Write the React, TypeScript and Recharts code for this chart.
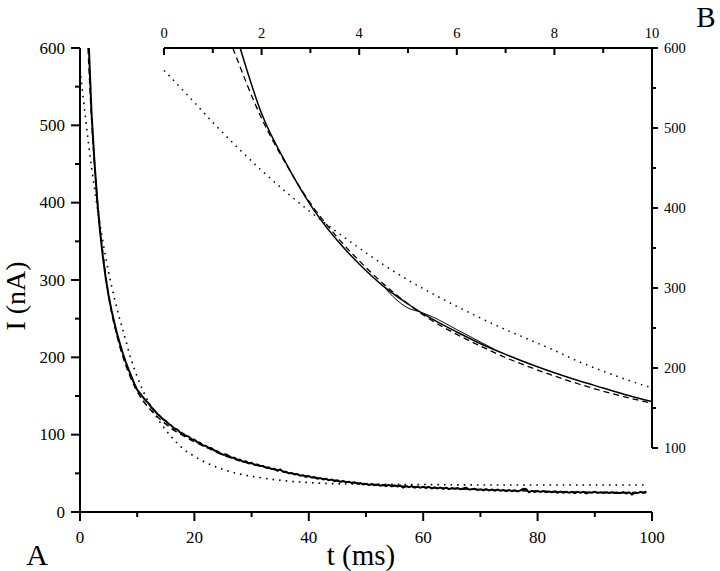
import { Line, LineChart, XAxis, YAxis } from 'recharts'

// recorded current trace (ms, nA)
const traceT = [
  1.56, 2, 2.5, 3, 3.5, 4, 4.5, 5, 5.5, 6, 6.5, 7, 7.5, 8, 8.5, 9, 9.5,
  10, 10.5, 11, 11.5, 12, 12.5, 13, 13.5, 14, 14.5,
  15, 15.5, 16, 16.5, 17, 17.5, 18, 18.5, 19, 19.5,
  20, 20.5, 21, 21.5, 22, 22.5, 23, 23.5, 24, 24.5,
  25, 25.5, 26, 26.5, 27, 27.5, 28, 28.5, 29, 29.5,
  30, 30.5, 31, 31.5, 32, 32.5, 33, 33.5, 34, 34.5,
  35, 35.5, 36, 36.5, 37, 37.5, 38, 38.5, 39, 39.5,
  40, 40.5, 41, 41.5, 42, 42.5, 43, 43.5, 44, 44.5,
  45, 45.5, 46, 46.5, 47, 47.5, 48, 48.5, 49, 49.5,
  50, 50.5, 51, 51.5, 52, 52.5, 53, 53.5, 54, 54.5,
  55, 55.5, 56, 56.5, 57, 57.5, 58, 58.5, 59, 59.5,
  60, 60.5, 61, 61.5, 62, 62.5, 63, 63.5, 64, 64.5,
  65, 65.5, 66, 66.5, 67, 67.5, 68, 68.5, 69, 69.5,
  70, 70.5, 71, 71.5, 72, 72.5, 73, 73.5, 74, 74.5,
  75, 75.5, 76, 76.5, 77, 77.5, 78, 78.5, 79, 79.5,
  80, 80.5, 81, 81.5, 82, 82.5, 83, 83.5, 84, 84.5,
  85, 85.5, 86, 86.5, 87, 87.5, 88, 88.5, 89, 89.5,
  90, 90.5, 91, 91.5, 92, 92.5, 93, 93.5, 94, 94.5,
  95, 95.5, 96, 96.5, 97, 97.5, 98, 98.5, 99,
]
const traceI = [
  600, 518, 456, 404, 363, 330, 302, 280, 261, 245, 230, 217, 205, 194, 184, 175, 166,
  158, 153.5, 148.5, 144, 140.5, 135, 131.5, 127, 124, 120,
  117.5, 114, 111.5, 108, 106.5, 103, 101.5, 98.5, 97.5, 94,
  93.5, 90.5, 89.5, 86, 85.5, 83, 82.5, 79.5, 78.5, 76,
  74, 74.5, 72.5, 70, 70, 67.5, 67.5, 65, 65.5, 63,
  63.5, 61, 61.5, 59.5, 59.5, 57.5, 57.5, 55.5, 56, 53.5,
  55, 52, 52, 50, 50.5, 48.5, 49, 47, 47.5, 45.5,
  46.5, 44.5, 45, 43, 44, 42, 43, 41, 42, 40,
  41, 39, 40, 38.5, 39, 37.5, 38.5, 36.5, 37.5, 35.5,
  36.5, 35, 36, 34.5, 35.5, 34, 35, 33.5, 35, 33,
  34.5, 33, 34, 31.5, 33.5, 32, 33.5, 31.5, 33, 31.5,
  32.5, 31, 32.5, 30.5, 32, 30.5, 31.5, 30, 31.5, 29.5,
  31, 30, 31, 29.5, 30.5, 31.5, 29, 29.5, 30, 28.5,
  29.5, 28, 29.5, 28, 29, 27.5, 29, 27.5, 28.5, 27,
  28.5, 27, 28, 26.5, 28, 30, 29.5, 25.5, 27.5, 26,
  27, 26, 27, 25.5, 26.5, 25.5, 26.5, 25, 26.5, 25,
  26, 25, 26, 24.5, 26, 25, 26, 24, 25.5, 25,
  26, 24.5, 25.5, 24.5, 25.5, 24.5, 25.5, 24.5, 25, 24.5,
  25.5, 24, 25.5, 22.5, 25, 24.5, 26, 25, 26.5,
]

// second sweep, only visible as the small loop in the inset
const loopT = [4.5, 4.75, 5, 5.25, 5.5, 6, 6.5, 6.75]
const loopI = [302, 286, 275, 270, 264, 248, 232, 224]

// two-exponential fit (dashed)
const dashT = [
  1.41, 2, 2.5, 3, 3.5, 4, 4.5, 5, 5.5, 6, 6.5, 7, 7.5, 8, 8.5, 9, 9.5, 10, 11, 12,
  13, 14, 15, 16, 18, 20, 22, 24, 26, 28, 30, 33, 36, 40, 45, 50, 55, 60, 70, 80, 90, 99,
]
const dashI = [
  600, 512, 455, 406, 367, 334, 305, 280, 259, 242, 227, 213, 201, 190, 180, 171, 163, 156, 144, 135,
  127, 120, 114, 108, 99, 91, 84, 77, 71, 66, 62, 56.5, 51.5, 46, 40.5, 36.5, 34, 32, 29, 27, 25.5, 25,
]

// single-exponential fit (dotted)
const dotT = [
  0, 0.5, 1, 1.5, 2, 2.5, 3, 3.5, 4, 4.5, 5, 5.5, 6, 6.5, 7, 7.5, 8, 8.5, 9, 9.5, 10,
  11, 12, 13, 14, 15, 16, 18, 20, 22, 25, 28, 31, 35, 40, 45, 50, 60, 70, 99,
]
const dotI = [
  572, 540, 507, 476, 447, 420, 395, 372, 350, 329, 310, 293, 277, 262, 248, 235, 222, 208, 196, 185, 175,
  157, 142, 128, 116, 106, 97, 82, 72, 64, 55, 49, 45, 41, 38, 36.5, 36, 35.5, 35, 35,
]

const mainXTicks = [0, 10, 20, 30, 40, 50, 60, 70, 80, 90, 100]
const mainYTicks = [0, 50, 100, 150, 200, 250, 300, 350, 400, 450, 500, 550, 600]
const insetXTicks = [0, 1, 2, 3, 4, 5, 6, 7, 8, 9, 10]
const insetYTicks = [100, 150, 200, 250, 300, 350, 400, 450, 500, 550, 600]

const zip = (ts: number[], vs: number[]) => ts.map((t, k) => ({ t, i: vs[k] }))
const trace = zip(traceT, traceI)
const loop = zip(loopT, loopI)
const dashed = zip(dashT, dashI)
const dotted = zip(dotT, dotI)

const FONT = '"Liberation Serif", "Times New Roman", serif'
const AXIS = { stroke: '#000', strokeWidth: 2 }

const MainXTick = ({ x, y, payload }: any) => {
  const major = payload.value % 20 === 0
  return (
    <g>
      <line x1={x} x2={x} y1={y} y2={y + (major ? 9 : 5)} stroke="#000" strokeWidth={2} />
      {major && (
        <text x={x} y={y + 25} textAnchor="middle" dominantBaseline="central" fontSize={17} fontFamily={FONT} fill="#000">
          {payload.value}
        </text>
      )}
    </g>
  )
}

const MainYTick = ({ x, y, payload }: any) => {
  const major = payload.value % 100 === 0
  return (
    <g>
      <line x1={x - (major ? 9 : 5)} x2={x} y1={y} y2={y} stroke="#000" strokeWidth={2} />
      {major && (
        <text x={x - 15} y={y} textAnchor="end" dominantBaseline="central" fontSize={17} fontFamily={FONT} fill="#000">
          {payload.value}
        </text>
      )}
    </g>
  )
}

const InsetXTick = ({ x, y, payload }: any) => {
  const major = payload.value % 2 === 0
  return (
    <g>
      <line x1={x} x2={x} y1={y} y2={y + (major ? 7 : 5)} stroke="#000" strokeWidth={2} />
      {major && (
        <text x={x} y={y - 15} textAnchor="middle" dominantBaseline="central" fontSize={14.5} fontFamily={FONT} fill="#000">
          {payload.value}
        </text>
      )}
    </g>
  )
}

const InsetYTick = ({ x, y, payload }: any) => {
  const major = payload.value % 100 === 0
  return (
    <g>
      <line x1={x} x2={x + (major ? 6 : 4)} y1={y} y2={y} stroke="#000" strokeWidth={2} />
      {major && (
        <text x={x + 12} y={y} textAnchor="start" dominantBaseline="central" fontSize={14.5} fontFamily={FONT} fill="#000">
          {payload.value}
        </text>
      )}
    </g>
  )
}

export default function App() {
  const insetTrace = trace.filter((d) => d.t <= 10)
  const insetDashed = dashed.filter((d) => d.t <= 10)
  const insetDotted = dotted.filter((d) => d.t <= 10)

  return (
    <div style={{ position: 'absolute', left: 0, top: 0, width: 720, height: 571, background: '#fff' }}>
      <div style={{ position: 'absolute', left: 0, top: 0 }}>
        <LineChart width={720} height={571} margin={{ top: 48, right: 68, bottom: 19, left: 20 }}>
          <XAxis
            dataKey="t"
            type="number"
            domain={[0, 100]}
            ticks={mainXTicks}
            interval={0}
            height={40}
            tickSize={0}
            tickMargin={0}
            tickLine={false}
            axisLine={AXIS}
            tick={<MainXTick />}
          />
          <YAxis
            type="number"
            domain={[0, 600]}
            ticks={mainYTicks}
            interval={0}
            width={60}
            tickSize={0}
            tickMargin={0}
            tickLine={false}
            axisLine={AXIS}
            tick={<MainYTick />}
          />
          <Line data={dotted} dataKey="i" type="monotone" stroke="#000" strokeWidth={1.6} strokeDasharray="1.6 5" dot={false} activeDot={false} isAnimationActive={false} />
          <Line data={dashed} dataKey="i" type="monotone" stroke="#000" strokeWidth={1.5} strokeDasharray="6 4" dot={false} activeDot={false} isAnimationActive={false} />
          <Line data={trace} dataKey="i" type="linear" stroke="#000" strokeWidth={2} dot={false} activeDot={false} isAnimationActive={false} />
        </LineChart>
      </div>

      <div style={{ position: 'absolute', left: 0, top: 0, pointerEvents: 'none' }}>
        <LineChart width={720} height={571} margin={{ top: 18, right: 8, bottom: 123, left: 164 }}>
          <XAxis
            dataKey="t"
            type="number"
            orientation="top"
            domain={[0, 10]}
            ticks={insetXTicks}
            interval={0}
            height={30}
            tickSize={0}
            tickMargin={0}
            tickLine={false}
            axisLine={AXIS}
            tick={<InsetXTick />}
          />
          <YAxis
            type="number"
            orientation="right"
            domain={[100, 600]}
            ticks={insetYTicks}
            interval={0}
            width={60}
            tickSize={0}
            tickMargin={0}
            tickLine={false}
            axisLine={AXIS}
            tick={<InsetYTick />}
          />
          <Line data={insetDotted} dataKey="i" type="monotone" stroke="#000" strokeWidth={1.5} strokeDasharray="1.5 5" dot={false} activeDot={false} isAnimationActive={false} />
          <Line data={insetDashed} dataKey="i" type="monotone" stroke="#000" strokeWidth={1.3} strokeDasharray="6 4" dot={false} activeDot={false} isAnimationActive={false} />
          <Line data={loop} dataKey="i" type="monotone" stroke="#000" strokeWidth={1} dot={false} activeDot={false} isAnimationActive={false} />
          <Line data={insetTrace} dataKey="i" type="monotone" stroke="#000" strokeWidth={1.5} dot={false} activeDot={false} isAnimationActive={false} />
        </LineChart>
      </div>

      <svg width={720} height={571} style={{ position: 'absolute', left: 0, top: 0, pointerEvents: 'none' }}>
        <text x={0} y={0} transform="translate(25 296) rotate(-90)" textAnchor="middle" fontSize={28} fontFamily={FONT} fill="#000">
          I (nA)
        </text>
        <text x={361} y={565} textAnchor="middle" fontSize={29} fontFamily={FONT} fill="#000">
          t (ms)
        </text>
        <text x={37} y={565} textAnchor="middle" fontSize={30} fontFamily={FONT} fill="#000">
          A
        </text>
        <text x={706} y={27} textAnchor="middle" fontSize={29} fontFamily={FONT} fill="#000">
          B
        </text>
      </svg>
    </div>
  )
}
